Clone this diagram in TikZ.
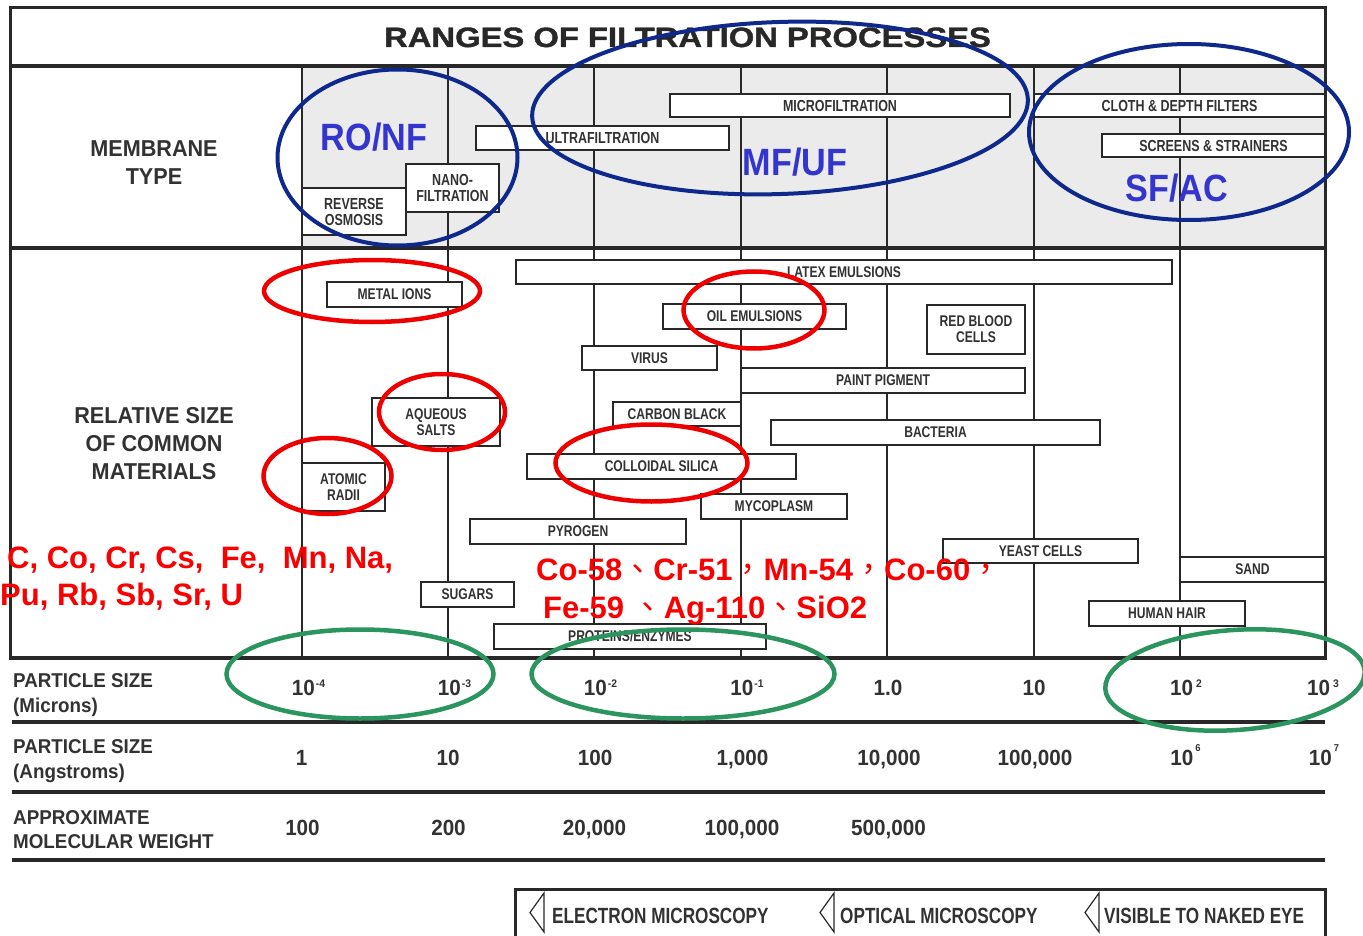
\documentclass[tikz,border=0pt]{standalone}
\usepackage{fontspec}
\usepackage{graphicx}
\setmainfont{Liberation Sans}
\newfontfamily\headfont[FakeStretch=0.94]{Liberation Sans}
\newfontfamily\condfont[FakeStretch=0.78]{Liberation Sans}
\newfontfamily\titlefont[FakeBold=1.2]{Liberation Sans}
\newfontfamily\cjkfont{Noto Sans CJK TC}
\definecolor{ink}{RGB}{50,50,50}
\definecolor{rule}{RGB}{40,40,40}
\definecolor{bandgray}{RGB}{235,235,235}
\definecolor{markblue}{RGB}{14,40,140}
\definecolor{labelblue}{RGB}{52,52,206}
\definecolor{markred}{RGB}{238,0,0}
\definecolor{notered}{RGB}{250,0,0}
\definecolor{markgreen}{RGB}{44,148,94}
% size helper and exponents for the scale rows
\newcommand\fsz[1]{\fontsize{#1}{#1}\selectfont}
\newcommand\upidx[1]{\kern1pt\raisebox{8pt}{\fontsize{11}{11}\selectfont #1}}
\newcommand\hiidx[1]{\kern2pt\raisebox{14pt}{\fontsize{10}{10}\selectfont #1}}
\newcommand\cjkp[1]{{\cjkfont\mdseries #1}}

\begin{document}
\begin{tikzpicture}[x=1pt, y=-1pt,
  outer/.style={draw=rule, line width=3pt},
  gridline/.style={draw=rule, line width=1.8pt},
  rowrule/.style={draw=rule, line width=4.5pt},
  mbox/.style={draw=rule, line width=1.7pt, fill=white, inner sep=0pt, align=center,
    text=ink, font=\condfont\bfseries\fontsize{15.5}{16}\selectfont},
  pbox/.style={mbox, font=\condfont\bfseries\fontsize{16}{16}\selectfont},
  head/.style={text=ink, inner sep=0pt, anchor=base, font=\headfont\bfseries\fontsize{23}{28}\selectfont},
  rowlabel/.style={text=ink, inner sep=0pt, anchor=base west, font=\headfont\bfseries\fontsize{20}{25}\selectfont},
  num/.style={text=ink, inner sep=0pt, anchor=base, font=\headfont\bfseries\fontsize{22}{22}\selectfont},
  legend/.style={text=ink, inner sep=0pt, anchor=base west, font=\condfont\bfseries\fontsize{22}{22}\selectfont},
  legtip/.style={draw=rule, line width=1.2pt, line join=miter},
  ring/.style={line width=4.5pt},
  rednote/.style={text=notered, inner sep=0pt, anchor=base west, font=\bfseries\fontsize{31}{31}\selectfont},
  bluenote/.style={text=labelblue, inner sep=0pt, font=\bfseries\fontsize{38}{38}\selectfont},
]
\fill[white] (0,0) rectangle (1363,936);
\useasboundingbox (0,0) rectangle (1363,936);

% shaded membrane band
\fill[bandgray] (302,66) rectangle (1325,248);

% decade grid
\foreach \gx in {448,594,741,887,1034,1180}
  \draw[gridline] (\gx,66) -- (\gx,658);
\draw[draw=rule, line width=2.4pt] (302,66) -- (302,658);

% frame and section rules
\draw[outer] (10,8) rectangle (1325,658);
\draw[draw=rule, line width=3.5pt] (10,66) -- (1325,66);
\draw[draw=rule, line width=3.5pt] (10,248) -- (1325,248);
\draw[draw=rule, line width=4pt] (10,658) -- (1325,658);

% title
\node[anchor=base, text=ink!80!black, inner sep=0pt] (title) at (687.5,47)
  {\scalebox{1.17}[1]{\fsz{28}\titlefont\bfseries RANGES OF FILTRATION PROCESSES}};

% row headings
\node[head] (mt1) at (154,157) {MEMBRANE};
\node[head] (mt2) at (154,185) {TYPE};
\node[head] (rs1) at (154,423) {RELATIVE SIZE};
\node[head] (rs2) at (154,451) {OF COMMON};
\node[head] (rs3) at (154,479) {MATERIALS};

% membrane processes
\node[pbox, minimum width=104pt, minimum height=47pt] (ro) at (354,211.5) {REVERSE\\OSMOSIS};
\node[pbox, minimum width=93pt, minimum height=48pt] (nf) at (452.5,188) {NANO-\\FILTRATION};
\node[pbox, minimum width=253pt, minimum height=24pt] (uf) at (602.5,138) {ULTRAFILTRATION};
\node[pbox, minimum width=340pt, minimum height=23pt] (mf) at (840,105.5) {MICROFILTRATION};
\node[pbox, minimum width=291pt, minimum height=23pt] (cloth) at (1179.5,105.5) {CLOTH \& DEPTH FILTERS};
\node[pbox, minimum width=223pt, minimum height=23pt] (screens) at (1213.5,145.5) {SCREENS \& STRAINERS};

% common materials
\node[mbox, minimum width=656pt, minimum height=24pt] (latex) at (844,272) {LATEX EMULSIONS};
\node[mbox, minimum width=135pt, minimum height=25pt] (metal) at (394.5,294.5) {METAL IONS};
\node[mbox, minimum width=183pt, minimum height=25pt] (oil) at (754.5,316.5) {OIL EMULSIONS};
\node[mbox, minimum width=98pt, minimum height=49pt] (rbc) at (976,329.5) {RED BLOOD\\CELLS};
\node[mbox, minimum width=135pt, minimum height=24pt] (virus) at (649.5,358) {VIRUS};
\node[mbox, minimum width=284pt, minimum height=25pt] (paint) at (883,380.5) {PAINT PIGMENT};
\node[mbox, minimum width=128pt, minimum height=48pt] (aqueous) at (436,422) {AQUEOUS\\SALTS};
\node[mbox, minimum width=128pt, minimum height=24pt] (carbon) at (677,414) {CARBON BLACK};
\node[mbox, minimum width=329pt, minimum height=25pt] (bacteria) at (935.5,432.5) {BACTERIA};
\node[mbox, minimum width=269pt, minimum height=25pt] (silica) at (661.5,466.5) {COLLOIDAL SILICA};
\node[mbox, minimum width=83pt, minimum height=48pt] (atomic) at (343.5,487) {ATOMIC\\RADII};
\node[mbox, minimum width=146pt, minimum height=25pt] (myco) at (774,506.5) {MYCOPLASM};
\node[mbox, minimum width=216pt, minimum height=25pt] (pyrogen) at (578,531.5) {PYROGEN};
\node[mbox, minimum width=195pt, minimum height=24pt] (yeast) at (1040.5,551) {YEAST CELLS};
\node[mbox, minimum width=145pt, minimum height=25pt] (sand) at (1252.5,569.5) {SAND};
\node[mbox, minimum width=93pt, minimum height=25pt] (sugars) at (467.5,594.5) {SUGARS};
\node[mbox, minimum width=156pt, minimum height=25pt] (hair) at (1167,613.5) {HUMAN HAIR};
\node[mbox, minimum width=272pt, minimum height=25pt] (proteins) at (630,636.5) {PROTEINS/ENZYMES};

% scale rows
\draw[rowrule] (12,722) -- (1325,722);
\draw[rowrule] (12,792) -- (1325,792);
\draw[rowrule] (12,860) -- (1325,860);

\node[rowlabel] (pm1) at (13,687) {PARTICLE SIZE};
\node[rowlabel] (pm2) at (13,712) {(Microns)};
\node[rowlabel] (pa1) at (13,753) {PARTICLE SIZE};
\node[rowlabel] (pa2) at (13,778) {(Angstroms)};
\node[rowlabel] (mw1) at (13,824) {APPROXIMATE};
\node[rowlabel] (mw2) at (13,848) {MOLECULAR WEIGHT};

\node[num] (um1) at (308.5,695) {10\upidx{-4}};
\node[num] (um2) at (454.5,695) {10\upidx{-3}};
\node[num] (um3) at (600.5,695) {10\upidx{-2}};
\node[num] (um4) at (747,695) {10\upidx{-1}};
\node[num] (um5) at (888,695) {1.0};
\node[num] (um6) at (1034,695) {10};
\node[num] (um7) at (1186,695) {10\kern2pt\upidx{2}};
\node[num] (um8) at (1323,695) {10\kern2pt\upidx{3}};

\node[num] (an1) at (301.5,765) {1};
\node[num] (an2) at (448,765) {10};
\node[num] (an3) at (595,765) {100};
\node[num] (an4) at (742.5,765) {1,000};
\node[num] (an5) at (889,765) {10,000};
\node[num] (an6) at (1035,765) {100,000};
\node[num] (an7) at (1185.5,765) {10\hiidx{6}};
\node[num] (an8) at (1324,765) {10\hiidx{7}};

\node[num] (mw01) at (302.5,835) {100};
\node[num] (mw02) at (448.5,835) {200};
\node[num] (mw03) at (594.5,835) {20,000};
\node[num] (mw04) at (742,835) {100,000};
\node[num] (mw05) at (888.5,835) {500,000};

% visibility legend
\draw[draw=rule, line width=3pt] (515,889) rectangle (1325,937);
\draw[legtip] (544,893) -- (530,912.5) -- (544,932) -- cycle;
\draw[legtip] (834,893) -- (820,912.5) -- (834,932) -- cycle;
\draw[legtip] (1099,893) -- (1085,912.5) -- (1099,932) -- cycle;
\node[legend] (lg1) at (552,923) {ELECTRON MICROSCOPY};
\node[legend] (lg2) at (840,923) {OPTICAL MICROSCOPY};
\node[legend] (lg3) at (1104,923) {VISIBLE TO NAKED EYE};

% process groups
\draw[markblue, line width=4pt] (397.5,157.5) ellipse [x radius=120, y radius=88];
\draw[markblue, line width=4pt, rotate around={2:(780,108)}] (780,108) ellipse [x radius=248, y radius=86];
\draw[markblue, line width=4pt] (1189,132) ellipse [x radius=160, y radius=88];
\node[bluenote] (ronf) at (374,137) {\scalebox{0.9}[1]{RO/NF}};
\node[bluenote] (mfuf) at (795,162) {\scalebox{0.9}[1]{MF/UF}};
\node[bluenote] (sfac) at (1177,188) {\scalebox{0.9}[1]{SF/AC}};

% highlighted materials
\draw[markred, ring] (372,291) ellipse [x radius=108, y radius=31];
\draw[markred, ring] (442,412) ellipse [x radius=63, y radius=38];
\draw[markred, ring] (327.5,476) ellipse [x radius=64, y radius=38];
\draw[markred, ring] (754,310) ellipse [x radius=70.5, y radius=38.5];
\draw[markred, ring] (651.5,463) ellipse [x radius=96, y radius=38.5];

% highlighted size ranges
\draw[markgreen, ring] (360,674) ellipse [x radius=133.5, y radius=44.5];
\draw[markgreen, ring] (683,674) ellipse [x radius=151.5, y radius=44.5];
\draw[markgreen, ring, rotate around={4:(1235,680)}] (1235,680) ellipse [x radius=130, y radius=50];

% nuclide notes
\node[rednote] (el1) at (7,568) {C, Co, Cr, Cs,~ Fe,~ Mn, Na,};
\node[rednote] (el2) at (0,605) {Pu, Rb, Sb, Sr, U};
\node[rednote] (nu1) at (536,580) {Co-58\cjkp{、}Cr-51\cjkp{，}Mn-54\cjkp{，}Co-60\cjkp{，}};
\node[rednote] (nu2) at (543,618) {Fe-59 \cjkp{、}Ag-110\cjkp{、}SiO2};
\end{tikzpicture}
\end{document}
